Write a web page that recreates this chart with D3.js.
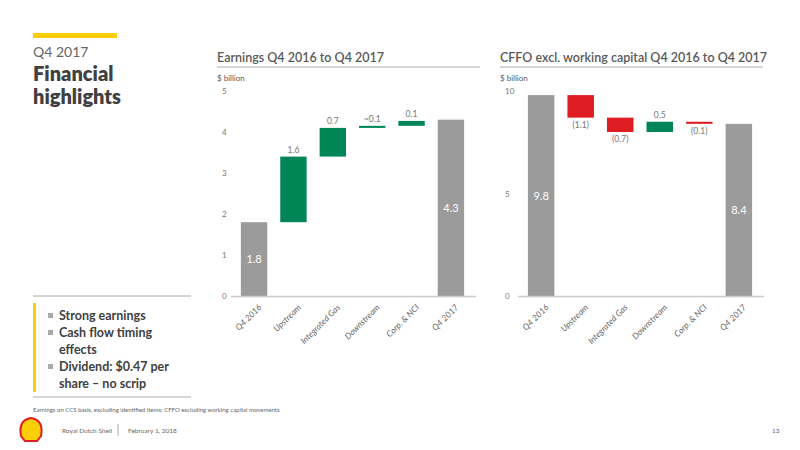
<!DOCTYPE html>
<html><head><meta charset="utf-8">
<script src="https://cdn.jsdelivr.net/npm/d3@7"></script>
<style>body{margin:0;background:#fff;font-family:Lato,"Open Sans",sans-serif}</style>
</head><body><svg id="c" width="800" height="450"></svg>
<script>
const categories = ["Q4 2016", "Upstream", "Integrated Gas", "Downstream", "Corp. & NCI", "Q4 2017"];
// earnings: start, deltas, end
const earnStart = 1.8, earnEnd = 4.3;
const earnDeltas = [1.6, 0.7, 0.05, 0.12];
const earnLabels = ["1.8", "1.6", "0.7", "~0.1", "0.1", "4.3"];
const cffoStart = 9.8, cffoEnd = 8.4;
const cffoDeltas = [-1.1, -0.7, 0.5, -0.1];
const cffoLabels = ["9.8", "(1.1)", "(0.7)", "0.5", "(0.1)", "8.4"];
const earnTicks = [0, 1, 2, 3, 4, 5];
const cffoTicks = [0, 5, 10];
const bullets = [["Strong earnings"], ["Cash flow timing", "effects"], ["Dividend: $0.47 per", "share \u2013 no scrip"]];

const svg = d3.select("#c");
const GREY = "#9b9b9b", GREEN = "#008557", RED = "#dd1d21", TXT = "#595959";

function build(start, deltas, end, labels) {
  const rows = [{lo: 0, hi: start, c: GREY, label: labels[0], total: true}];
  let run = start;
  deltas.forEach((d, i) => {
    const nxt = run + d;
    rows.push({lo: Math.min(run, nxt), hi: Math.max(run, nxt), c: d >= 0 ? GREEN : RED, label: labels[i + 1], neg: d < 0});
    run = nxt;
  });
  rows.push({lo: 0, hi: end, c: GREY, label: labels[labels.length - 1], total: true});
  return rows;
}

function waterfall(opt) {
  const g = svg.append("g");
  const x = d3.scaleBand().domain(categories).range([opt.x0, opt.x1]).paddingInner(0.33).paddingOuter(0.2);
  const y = d3.scaleLinear().domain([0, opt.max]).range([296, 91]);
  g.append("text").attr("x", opt.tx).attr("y", 62).attr("font-size", 12.5).attr("font-weight", 600)
    .attr("fill", TXT).text(opt.title);
  g.append("line").attr("x1", opt.tx).attr("x2", opt.tx + 263).attr("y1", 67).attr("y2", 67).attr("stroke", "#aaa");
  g.append("text").attr("x", opt.tx).attr("y", 81).attr("font-size", 8).attr("fill", TXT).text("$ billion");
  g.selectAll(".yt").data(opt.ticks).join("text").attr("x", opt.tx + 5).attr("y", d => y(d) + 3)
    .attr("font-size", 8).attr("fill", "#777").text(d => d);
  const data = build(opt.start, opt.deltas, opt.end, opt.labels);
  g.selectAll("rect").data(data).join("rect")
    .attr("x", (d, i) => x(categories[i])).attr("width", x.bandwidth())
    .attr("y", d => y(d.hi)).attr("height", d => Math.max(2, y(d.lo) - y(d.hi))).attr("fill", d => d.c);
  g.append("line").attr("x1", opt.x0 - 2).attr("x2", opt.x1 + 4).attr("y1", 296.5).attr("y2", 296.5).attr("stroke", "#ccc").attr("stroke-width", 1.5);
  g.selectAll(".lb").data(data).join("text")
    .attr("x", (d, i) => x(categories[i]) + x.bandwidth() / 2)
    .attr("y", d => d.total ? y(d.hi / 2) + 4 : d.neg ? y(d.lo) + 10 : y(d.hi) - 4)
    .attr("text-anchor", "middle").attr("font-size", d => d.total ? 11 : 8.5)
    .attr("fill", d => d.total ? "#fff" : "#777").text(d => d.label);
  g.selectAll(".xt").data(categories).join("text")
    .attr("transform", c => `translate(${x(c) + x.bandwidth() / 2 + 8},${308}) rotate(-45)`)
    .attr("text-anchor", "end").attr("font-size", 8.5).attr("font-style", "italic").attr("fill", "#666").text(c => c);
}

waterfall({x0: 233, x1: 472, tx: 217, max: 5, ticks: earnTicks, title: "Earnings Q4 2016 to Q4 2017",
  start: earnStart, deltas: earnDeltas, end: earnEnd, labels: earnLabels});
waterfall({x0: 520, x1: 760, tx: 500, max: 10, ticks: cffoTicks, title: "CFFO excl. working capital Q4 2016 to Q4 2017",
  start: cffoStart, deltas: cffoDeltas, end: cffoEnd, labels: cffoLabels});

// left panel
svg.append("rect").attr("x", 33).attr("y", 33).attr("width", 84).attr("height", 5).attr("fill", "#fbce07");
svg.append("text").attr("x", 33).attr("y", 57).attr("font-size", 14).attr("fill", "#666").text("Q4 2017");
svg.append("text").attr("x", 33).attr("y", 81).attr("font-size", 20).attr("font-weight", 800).attr("fill", "#404040").text("Financial");
svg.append("text").attr("x", 33).attr("y", 104).attr("font-size", 20).attr("font-weight", 800).attr("fill", "#404040").text("highlights");
svg.append("line").attr("x1", 33).attr("x2", 191).attr("y1", 296).attr("y2", 296).attr("stroke", "#aaa");
svg.append("line").attr("x1", 33).attr("x2", 191).attr("y1", 397).attr("y2", 397).attr("stroke", "#aaa");
svg.append("rect").attr("x", 33).attr("y", 303).attr("width", 3).attr("height", 89).attr("fill", "#fbce07");
let ly = 320;
bullets.forEach(b => {
  svg.append("rect").attr("x", 48).attr("y", ly - 7).attr("width", 5).attr("height", 5).attr("fill", "#aaa");
  b.forEach(t => {
    svg.append("text").attr("x", 59).attr("y", ly).attr("font-size", 12.5).attr("font-weight", 700).attr("fill", "#404040").text(t);
    ly += 17;
  });
});
svg.append("text").attr("x", 33).attr("y", 412).attr("font-size", 6).attr("fill", "#666")
  .text("Earnings on CCS basis, excluding identified items; CFFO excluding working capital movements");
// footer
svg.append("path").attr("d", "M21,436 Q18,420 31,418 Q44,420 41,436 L37,441 L25,441 Z").attr("fill", "#fbce07").attr("stroke", RED).attr("stroke-width", 2);
svg.append("text").attr("x", 62).attr("y", 433).attr("font-size", 6.5).attr("fill", "#666").text("Royal Dutch Shell");
svg.append("line").attr("x1", 118).attr("x2", 118).attr("y1", 424).attr("y2", 436).attr("stroke", "#aaa");
svg.append("text").attr("x", 128).attr("y", 433).attr("font-size", 6.5).attr("fill", "#666").text("February 1, 2018");
svg.append("text").attr("x", 772).attr("y", 433).attr("font-size", 6.5).attr("fill", "#666").text("13");
</script></body></html>
